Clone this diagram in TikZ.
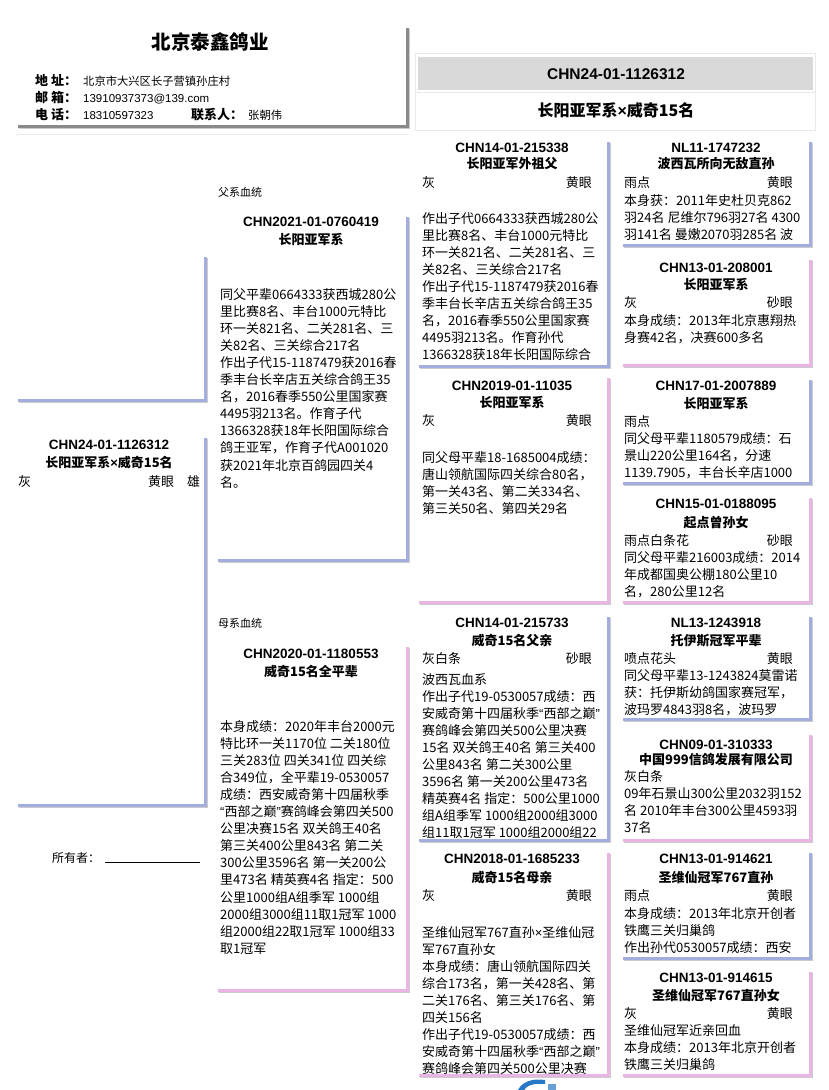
\documentclass[tikz,border=0pt]{standalone}
\usepackage{fontspec}
\setmainfont{Noto Sans CJK SC}
\newfontfamily\latin{Liberation Sans}
\usetikzlibrary{fit}
\definecolor{mblue}{RGB}{163,174,222}
\definecolor{fpink}{RGB}{233,182,228}
\definecolor{hgray}{RGB}{138,138,138}
\definecolor{bandgray}{RGB}{217,217,217}
\definecolor{faint}{RGB}{234,234,234}
\definecolor{logoblue}{RGB}{40,120,200}
\newcommand\pline[1]{\hbox{#1}}
\newcommand\oq{{\latin “}}
\newcommand\cq{{\latin ”}}
\newcommand\xx{{\latin ×}}
\tikzset{
 ttl/.style={anchor=base, inner sep=0, font=\latin\bfseries\fontsize{13.5}{16}\selectfont},
 sub/.style={anchor=base, inner sep=0, font=\bfseries\fontsize{13}{16}\selectfont},
 lft/.style={anchor=base west, inner sep=0, font=\fontsize{13}{17.1}\selectfont},
 rgt/.style={anchor=base east, inner sep=0, font=\fontsize{13}{17.1}\selectfont},
 body/.style={anchor=base west, inner sep=0, font=\fontsize{13}{17.1}\selectfont},
 small/.style={anchor=base west, inner sep=0, font=\fontsize{11}{13}\selectfont},
 hlab/.style={anchor=base west, inner sep=0, font=\bfseries\fontsize{13}{15}\selectfont},
 hval/.style={anchor=base west, inner sep=0, font=\fontsize{11.3}{13}\selectfont},
 hvallat/.style={anchor=base west, inner sep=0, font=\latin\fontsize{11.5}{13}\selectfont},
 shadowln/.style={line width=2.6pt, color=black!20, line join=miter},
 blueln/.style={line width=2.6pt, color=mblue, line join=miter},
 pinkln/.style={line width=2.6pt, color=fpink, line join=miter},
 grayln/.style={line width=3pt, color=hgray, line join=miter},
}
\newcommand\pedbox[6]{%
  \coordinate (#1-a) at (#2,#3);
  \coordinate (#1-b) at (#4,#5);
  \node[inner sep=0, fit=(#1-a)(#1-b)] (#1) {};
  \draw[shadowln] ([shift={(1.4,1.4)}]#1.north east) -- ([shift={(1.4,1.4)}]#1.south east) -- ([shift={(1.4,1.4)}]#1.south west);
  \draw[#6] (#1.north east) -- (#1.south east) -- (#1.south west);
}
\begin{document}
\begin{tikzpicture}[x=1pt,y=-1pt]
\useasboundingbox (0,0) rectangle (828,1090);
\fill[white] (0,0) rectangle (828,1090);

% ---------- header left ----------
\draw[faint, line width=0.8pt] (16,134) -- (408,134);
\pedbox{hdr}{18}{28}{407}{126}{grayln}
\node[anchor=base, inner sep=0, font=\bfseries\fontsize{19.5}{22}\selectfont] (htitle) at (210,49.5) {北京泰鑫鸽业};
\node[hlab] (l1) at (35,85) {地 址：};
\node[hval] (v1) at (83,85) {北京市大兴区长子营镇孙庄村};
\node[hlab] (l2) at (35,102) {邮 箱：};
\node[hvallat] (v2) at (83,102) {13910937373@139.com};
\node[hlab] (l3) at (35,119) {电 话：};
\node[hvallat] (v3) at (83,119) {18310597323};
\node[hlab] (l4) at (191,119) {联系人：};
\node[hval] (v4) at (248,119) {张朝伟};

% ---------- header right ----------
\draw[faint, line width=0.8pt] (415,53) rectangle (815,130);
\draw[faint, line width=0.8pt] (415,92) -- (815,92);
\node[fill=bandgray, inner sep=0, minimum width=395pt, minimum height=33pt] (band) at (615,73.5) {};
\node[anchor=base, inner sep=0, font=\latin\bfseries\fontsize{15.5}{18}\selectfont] (rid) at (616,79) {CHN24-01-1126312};
\node[anchor=base, inner sep=0, font=\bfseries\fontsize{16}{18}\selectfont] (rname) at (616,116) {长阳亚军系\xx 威奇15名};

% ---------- subject ----------
\pedbox{subA}{18}{257}{205}{400}{blueln}
\pedbox{subB}{18}{438}{205}{805}{blueln}
\node[ttl] (s-t) at (109,449) {CHN24-01-1126312};
\node[sub] (s-s) at (109,467) {长阳亚军系\xx 威奇15名};
\node[lft] (s-c) at (18,486) {灰};
\node[lft] (s-e) at (148,486) {黄眼};
\node[lft] (s-g) at (187,486) {雄};
\node[anchor=base west, inner sep=0, font=\fontsize{12}{14}\selectfont] (owner) at (52,862) {所有者：};
\coordinate (ul-a) at (105,862);
\coordinate (ul-b) at (200,862);
\draw[line width=0.8pt] (ul-a) -- (ul-b);

% ---------- sire ----------
\node[small] (plab) at (218,196) {父系血统};
\pedbox{sire}{218}{217}{407}{560}{blueln}
\node[ttl] (sire-t) at (311,226) {CHN2021-01-0760419};
\node[sub] (sire-s) at (311,244) {长阳亚军系};
\node[body] (sire-b) at (220,299) {\vtop{%
\pline{同父平辈0664333获西城280公}
\pline{里比赛8名、丰台1000元特比}
\pline{环一关821名、二关281名、三}
\pline{关82名、三关综合217名}
\pline{作出子代15-1187479获2016春}
\pline{季丰台长辛店五关综合鸽王35}
\pline{名，2016春季550公里国家赛}
\pline{4495羽213名。作育子代}
\pline{1366328获18年长阳国际综合}
\pline{鸽王亚军，作育子代A001020}
\pline{获2021年北京百鸽园四关4}
\pline{名。}}};

% ---------- dam ----------
\node[small] (mlab) at (218,627) {母系血统};
\pedbox{dam}{218}{647}{407}{990}{pinkln}
\node[ttl] (dam-t) at (311,658) {CHN2020-01-1180553};
\node[sub] (dam-s) at (311,676) {威奇15名全平辈};
\node[body] (dam-b) at (220,731) {\vtop{%
\pline{本身成绩：2020年丰台2000元}
\pline{特比环一关1170位 二关180位}
\pline{三关283位 四关341位 四关综}
\pline{合349位，全平辈19-0530057}
\pline{成绩：西安威奇第十四届秋季}
\pline{\oq 西部之巅\cq 赛鸽峰会第四关500}
\pline{公里决赛15名 双关鸽王40名}
\pline{第三关400公里843名 第二关}
\pline{300公里3596名 第一关200公}
\pline{里473名 精英赛4名 指定：500}
\pline{公里1000组A组季军 1000组}
\pline{2000组3000组11取1冠军 1000}
\pline{组2000组22取1冠军 1000组33}
\pline{取1冠军}}};

% ---------- 3rd generation ----------
\pedbox{ss}{419}{142}{608}{366}{blueln}
\node[ttl] (ss-t) at (512,152) {CHN14-01-215338};
\node[sub] (ss-s) at (512,168) {长阳亚军外祖父};
\node[lft] (ss-c) at (422,187) {灰};
\node[rgt] (ss-e) at (592,187) {黄眼};
\node[body] (ss-b) at (422,223) {\vtop{%
\pline{作出子代0664333获西城280公}
\pline{里比赛8名、丰台1000元特比}
\pline{环一关821名、二关281名、三}
\pline{关82名、三关综合217名}
\pline{作出子代15-1187479获2016春}
\pline{季丰台长辛店五关综合鸽王35}
\pline{名，2016春季550公里国家赛}
\pline{4495羽213名。作育孙代}
\pline{1366328获18年长阳国际综合}}};

\pedbox{sd}{419}{378}{608}{602}{pinkln}
\node[ttl] (sd-t) at (512,390) {CHN2019-01-11035};
\node[sub] (sd-s) at (512,407) {长阳亚军系};
\node[lft] (sd-c) at (422,425) {灰};
\node[rgt] (sd-e) at (592,425) {黄眼};
\node[body] (sd-b) at (422,462) {\vtop{%
\pline{同父母平辈18-1685004成绩：}
\pline{唐山领航国际四关综合80名，}
\pline{第一关43名、第二关334名、}
\pline{第三关50名、第四关29名}}};

\pedbox{ds}{419}{617}{608}{840}{blueln}
\node[ttl] (ds-t) at (512,627) {CHN14-01-215733};
\node[sub] (ds-s) at (512,645) {威奇15名父亲};
\node[lft] (ds-c) at (422,663) {灰白条};
\node[rgt] (ds-e) at (592,663) {砂眼};
\node[body] (ds-b) at (422,684) {\vtop{%
\pline{波西瓦血系}
\pline{作出子代19-0530057成绩：西}
\pline{安威奇第十四届秋季\oq 西部之巅\cq}
\pline{赛鸽峰会第四关500公里决赛}
\pline{15名 双关鸽王40名 第三关400}
\pline{公里843名 第二关300公里}
\pline{3596名 第一关200公里473名}
\pline{精英赛4名 指定：500公里1000}
\pline{组A组季军 1000组2000组3000}
\pline{组11取1冠军 1000组2000组22}}};

\pedbox{dd}{419}{853}{608}{1075}{pinkln}
\node[ttl] (dd-t) at (512,863) {CHN2018-01-1685233};
\node[sub] (dd-s) at (512,882) {威奇15名母亲};
\node[lft] (dd-c) at (422,900) {灰};
\node[rgt] (dd-e) at (592,900) {黄眼};
\node[body] (dd-b) at (422,937) {\vtop{%
\pline{圣维仙冠军767直孙\xx 圣维仙冠}
\pline{军767直孙女}
\pline{本身成绩：唐山领航国际四关}
\pline{综合173名，第一关428名、第}
\pline{二关176名、第三关176名、第}
\pline{四关156名}
\pline{作出子代19-0530057成绩：西}
\pline{安威奇第十四届秋季\oq 西部之巅\cq}
\pline{赛鸽峰会第四关500公里决赛}}};

% ---------- 4th generation ----------
\pedbox{g1}{623}{142}{810}{245}{blueln}
\node[ttl] (g1-t) at (716,152) {NL11-1747232};
\node[sub] (g1-s) at (716,168) {波西瓦所向无敌直孙};
\node[lft] (g1-c) at (624,187) {雨点};
\node[rgt] (g1-e) at (793,187) {黄眼};
\node[body] (g1-b) at (624,205) {\vtop{%
\pline{本身获：2011年史杜贝克862}
\pline{羽24名 尼维尔796羽27名 4300}
\pline{羽141名 曼嫩2070羽285名 波}}};

\pedbox{g2}{623}{260}{810}{365}{pinkln}
\node[ttl] (g2-t) at (716,272) {CHN13-01-208001};
\node[sub] (g2-s) at (716,289) {长阳亚军系};
\node[lft] (g2-c) at (624,307) {灰};
\node[rgt] (g2-e) at (793,307) {砂眼};
\node[body] (g2-b) at (624,325) {\vtop{%
\pline{本身成绩：2013年北京惠翔热}
\pline{身赛42名，决赛600多名}}};

\pedbox{g3}{623}{380}{810}{483}{blueln}
\node[ttl] (g3-t) at (716,390) {CHN17-01-2007889};
\node[sub] (g3-s) at (716,408) {长阳亚军系};
\node[lft] (g3-c) at (624,426) {雨点};
\node[body] (g3-b) at (624,443) {\vtop{%
\pline{同父母平辈1180579成绩：石}
\pline{景山220公里164名，分速}
\pline{1139.7905，丰台长辛店1000}}};

\pedbox{g4}{623}{498}{810}{602}{pinkln}
\node[ttl] (g4-t) at (716,508) {CHN15-01-0188095};
\node[sub] (g4-s) at (716,527) {起点曾孙女};
\node[lft] (g4-c) at (624,545) {雨点白条花};
\node[rgt] (g4-e) at (793,545) {砂眼};
\node[body] (g4-b) at (624,562) {\vtop{%
\pline{同父母平辈216003成绩：2014}
\pline{年成都国奥公棚180公里10}
\pline{名，280公里12名}}};

\pedbox{g5}{623}{617}{810}{719}{blueln}
\node[ttl] (g5-t) at (716,627) {NL13-1243918};
\node[sub] (g5-s) at (716,645) {托伊斯冠军平辈};
\node[lft] (g5-c) at (624,663) {喷点花头};
\node[rgt] (g5-e) at (793,663) {黄眼};
\node[body] (g5-b) at (624,680) {\vtop{%
\pline{同父母平辈13-1243824莫雷诺}
\pline{获：托伊斯幼鸽国家赛冠军，}
\pline{波玛罗4843羽8名，波玛罗}}};

\pedbox{g6}{623}{735}{810}{840}{pinkln}
\node[ttl] (g6-t) at (716,749) {CHN09-01-310333};
\node[sub] (g6-s) at (716,764) {中国999信鸽发展有限公司};
\node[lft] (g6-c) at (624,781) {灰白条};
\node[body] (g6-b) at (624,798) {\vtop{%
\pline{09年石景山300公里2032羽152}
\pline{名 2010年丰台300公里4593羽}
\pline{37名}}};

\pedbox{g7}{623}{853}{810}{958}{blueln}
\node[ttl] (g7-t) at (716,863) {CHN13-01-914621};
\node[sub] (g7-s) at (716,882) {圣维仙冠军767直孙};
\node[lft] (g7-c) at (624,900) {雨点};
\node[rgt] (g7-e) at (793,900) {黄眼};
\node[body] (g7-b) at (624,918) {\vtop{%
\pline{本身成绩：2013年北京开创者}
\pline{铁鹰三关归巢鸽}
\pline{作出孙代0530057成绩：西安}}};

\pedbox{g8}{623}{972}{810}{1075}{pinkln}
\node[ttl] (g8-t) at (716,982) {CHN13-01-914615};
\node[sub] (g8-s) at (716,1000) {圣维仙冠军767直孙女};
\node[lft] (g8-c) at (624,1018) {灰};
\node[rgt] (g8-e) at (793,1018) {黄眼};
\node[body] (g8-b) at (624,1035) {\vtop{%
\pline{圣维仙冠军近亲回血}
\pline{本身成绩：2013年北京开创者}
\pline{铁鹰三关归巢鸽}}};

% ---------- logo fragment ----------
\fill[logoblue] (518,1090) .. controls (522,1082) and (532,1078) .. (545,1080) -- (545,1084) .. controls (535,1083) and (527,1085) .. (524,1090) -- cycle;
\fill[logoblue!70] (548,1090) -- (548,1084) -- (556,1084) -- (556,1090) -- cycle;
\end{tikzpicture}
\end{document}
